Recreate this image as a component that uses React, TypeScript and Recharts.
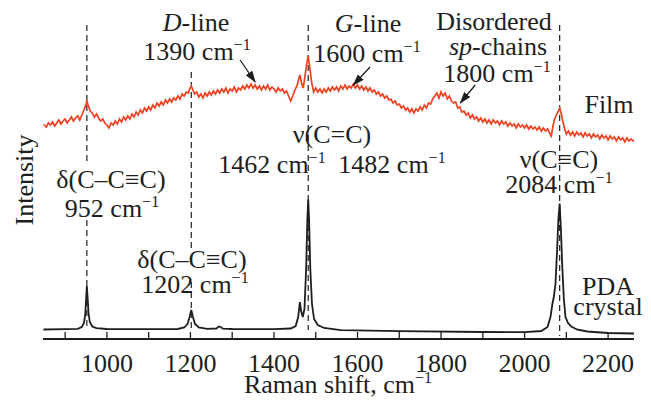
import { Line, LineChart, ReferenceLine, XAxis, YAxis } from 'recharts';

const SERIF = 'Liberation Serif';
const INK = '#1e1e1e';
const FILM_RED = '#ee4323';

// Raman shift ticks (labels every 200, minor every 100)
const shiftTicks = [900, 1000, 1100, 1200, 1300, 1400, 1500, 1600, 1700, 1800, 1900, 2000, 2100, 2200];

// PDA crystal spectrum [shift, intensity]
const crystal: [number, number][] = [
	[848, 9.5], [900, 9.8], [930, 10.2], [940, 12], [945, 16], [948, 24], [950, 38], [952, 53],
	[954, 40], [956, 26], [959, 17], [965, 12.5], [975, 10.8], [1000, 10], [1100, 9.8], [1170, 10],
	[1185, 11.5], [1193, 15], [1198, 22], [1202, 29], [1206, 22], [1211, 15], [1220, 11.5], [1240, 10.2],
	[1262, 10.5], [1268, 12.5], [1272, 12], [1278, 10.3], [1300, 10], [1400, 9.8], [1440, 10.5], [1452, 13],
	[1458, 22], [1462, 37], [1465, 28], [1469, 22], [1473, 30], [1477, 70], [1480, 120], [1482, 139.5],
	[1484, 120], [1487, 70], [1491, 35], [1496, 20], [1505, 14], [1520, 11], [1560, 8.8], [1700, 7.8],
	[1900, 7], [2000, 6.8], [2040, 8], [2055, 12], [2062, 22], [2067, 36], [2070, 42], [2074, 55],
	[2078, 90], [2081, 120], [2084, 135.5], [2087, 110], [2090, 75], [2094, 40], [2098, 22], [2104, 16],
	[2112, 12.5], [2125, 9.5], [2150, 7.5], [2200, 6], [2262, 5.5],
];

// Film spectrum [shift, intensity]
const film: [number, number][] = [
	[848, 214], [850, 214], [855, 212], [860, 216], [865, 214], [870, 217], [875, 213], [880, 216], [885, 219],
	[890, 215], [895, 218], [900, 220], [905, 216], [910, 219], [915, 222], [920, 218], [925, 221],
	[930, 223], [935, 219], [940, 224], [945, 229], [950, 235], [952, 238], [955, 234], [960, 228],
	[965, 226], [970, 222], [975, 225], [980, 221], [985, 218], [990, 220], [995, 216], [1000, 214],
	[1005, 211], [1010, 216], [1015, 214], [1020, 218], [1025, 215], [1030, 220], [1035, 217], [1040, 222],
	[1045, 219], [1050, 223], [1055, 220], [1060, 225], [1065, 222], [1070, 227], [1075, 224], [1080, 229],
	[1085, 226], [1090, 231], [1095, 228], [1100, 232], [1105, 229], [1110, 234], [1115, 231], [1120, 236],
	[1125, 233], [1130, 237], [1135, 234], [1140, 239], [1145, 236], [1150, 240], [1155, 237], [1160, 241],
	[1165, 239], [1170, 243], [1175, 240], [1180, 245], [1185, 243], [1190, 247], [1195, 246], [1198, 250],
	[1202, 253], [1206, 249], [1210, 245], [1215, 247], [1220, 242], [1225, 245], [1230, 241], [1235, 246],
	[1240, 243], [1245, 247], [1250, 244], [1255, 248], [1260, 245], [1265, 249], [1270, 246], [1275, 250],
	[1280, 247], [1285, 251], [1290, 246], [1295, 250], [1300, 248], [1305, 252], [1310, 247], [1315, 251],
	[1320, 249], [1325, 253], [1330, 250], [1335, 254], [1340, 251], [1345, 255], [1350, 251], [1355, 254],
	[1360, 250], [1365, 253], [1370, 249], [1375, 253], [1380, 250], [1385, 254], [1390, 249], [1395, 252],
	[1400, 250], [1405, 247], [1410, 251], [1415, 248], [1420, 250], [1425, 246], [1430, 248], [1435, 243],
	[1440, 238], [1445, 243], [1450, 249], [1455, 253], [1458, 258], [1462, 264], [1466, 256], [1470, 251],
	[1474, 262], [1478, 274], [1482, 283], [1486, 271], [1490, 257], [1495, 247], [1500, 251], [1505, 247],
	[1510, 250], [1515, 246], [1520, 250], [1525, 247], [1530, 251], [1535, 248], [1540, 252], [1545, 249],
	[1550, 252], [1555, 248], [1560, 253], [1565, 250], [1570, 254], [1575, 250], [1580, 253], [1585, 251],
	[1590, 255], [1595, 251], [1600, 254], [1605, 250], [1610, 253], [1615, 249], [1620, 252], [1625, 248],
	[1630, 251], [1635, 247], [1640, 249], [1645, 245], [1650, 247], [1655, 243], [1660, 245], [1665, 241],
	[1670, 243], [1675, 239], [1680, 240], [1685, 236], [1690, 238], [1695, 234], [1700, 235], [1705, 231],
	[1710, 233], [1715, 229], [1720, 231], [1725, 227], [1730, 230], [1735, 226], [1740, 230], [1745, 228],
	[1750, 232], [1755, 229], [1760, 234], [1765, 231], [1770, 236], [1775, 235], [1780, 240], [1785, 243],
	[1790, 246], [1795, 241], [1800, 247], [1805, 243], [1810, 246], [1815, 240], [1820, 243], [1825, 238],
	[1830, 236], [1835, 237], [1840, 231], [1845, 232], [1850, 227], [1855, 228], [1860, 224], [1865, 226],
	[1870, 221], [1875, 224], [1880, 220], [1885, 222], [1890, 218], [1895, 221], [1900, 217], [1905, 220],
	[1910, 216], [1915, 219], [1920, 215], [1925, 219], [1930, 216], [1935, 218], [1940, 214], [1945, 218],
	[1950, 215], [1955, 217], [1960, 213], [1965, 216], [1970, 213], [1975, 215], [1980, 211], [1985, 215],
	[1990, 212], [1995, 214], [2000, 211], [2005, 214], [2010, 210], [2015, 213], [2020, 210], [2025, 212],
	[2030, 209], [2035, 212], [2040, 208], [2045, 211], [2050, 208], [2055, 210], [2060, 206], [2064, 203],
	[2068, 213], [2072, 220], [2076, 224], [2080, 227], [2084, 231], [2088, 225], [2092, 217], [2096, 210],
	[2100, 205], [2105, 208], [2110, 204], [2115, 207], [2120, 203], [2125, 207], [2130, 204], [2135, 206],
	[2140, 202], [2145, 206], [2150, 203], [2155, 205], [2160, 201], [2165, 205], [2170, 202], [2175, 204],
	[2180, 200], [2185, 204], [2190, 201], [2195, 203], [2200, 199], [2205, 203], [2210, 200], [2215, 202],
	[2220, 198], [2225, 202], [2230, 199], [2235, 201], [2240, 197], [2245, 201], [2250, 198], [2255, 200],
	[2260, 198], [2262, 199],
];

// dashed peak markers: [shift, from, to]
const peakMarks: [number, number, number][] = [
	[952, 314, 174],
	[952, 119, 9],
	[1202, 267, 87],
	[1202, 57, 9],
	[1482, 314, 9],
	[2084, 314, 3],
];

// annotation arrows: [fromShift, fromY, toShift, toY]
const arrows: [number, number, number, number][] = [
	[1319, 279, 1355, 257],
	[1630, 272, 1590, 254],
	[1882, 254, 1846, 236],
];

const crystalData = crystal.map(([x, y]) => ({ x, y }));
const filmData = film.map(([x, y]) => ({ x, y }));

const textStyle = { fontFamily: SERIF, fontSize: 26 };

function AxisTick({ x, y, payload }: any) {
	const major = payload.value % 200 === 0;
	return (
		<g>
			<line x1={x} x2={x} y1={y} y2={y - 7} stroke={INK} strokeWidth={1.3} />
			{major && (
				<text x={x} y={y + 33} textAnchor="middle" style={textStyle} fill={INK}>
					{payload.value}
				</text>
			)}
		</g>
	);
}

function Sup({ children }: { children: string }) {
	return (
		<tspan dy={-10} style={{ fontSize: 16 }}>
			{children}
		</tspan>
	);
}

function Label({ x, y, children }: { x: number; y: number; children: any }) {
	return (
		<text x={x} y={y} textAnchor="middle" style={textStyle} fill={INK}>
			{children}
		</text>
	);
}

export default function App() {
	return (
		<div style={{ position: 'absolute', left: 0, top: 0, width: 651, height: 408, background: '#fff' }}>
			<LineChart width={651} height={408} margin={{ top: 20, right: 17, bottom: 0, left: 43 }}>
				<XAxis
					type="number"
					dataKey="x"
					domain={[847, 2262]}
					ticks={shiftTicks}
					interval={0}
					allowDataOverflow
					height={69}
					tickSize={0}
					tickMargin={0}
					tickLine={false}
					tick={<AxisTick />}
					axisLine={{ stroke: INK, strokeWidth: 2 }}
				/>
				<YAxis
					type="number"
					domain={[0, 319]}
					allowDataOverflow
					width={0}
					tick={false}
					tickLine={false}
					axisLine={{ stroke: INK, strokeWidth: 2 }}
				/>
				{peakMarks.map(([x, y1, y2], i) => (
					<ReferenceLine
						key={`pm${i}`}
						segment={[{ x, y: y1 }, { x, y: y2 }]}
						stroke={INK}
						strokeWidth={1.2}
						strokeDasharray="6 4"
					/>
				))}
				<Line
					data={filmData}
					dataKey="y"
					type="linear"
					stroke={FILM_RED}
					strokeWidth={1.7}
					dot={false}
					isAnimationActive={false}
				/>
				<Line
					data={crystalData}
					dataKey="y"
					type="linear"
					stroke={INK}
					strokeWidth={1.8}
					dot={false}
					isAnimationActive={false}
				/>
				{arrows.map(([x1, y1, x2, y2], i) => (
					<ReferenceLine
						key={`ar${i}`}
						segment={[{ x: x1, y: y1 }, { x: x2, y: y2 }]}
						stroke={INK}
						strokeWidth={1.3}
						markerEnd="url(#arrowHead)"
					/>
				))}
			</LineChart>
			<svg
				width={651}
				height={408}
				style={{ position: 'absolute', left: 0, top: 0, pointerEvents: 'none' }}
			>
				<defs>
					<marker
						id="arrowHead"
						viewBox="0 0 12 8"
						refX={11}
						refY={4}
						markerWidth={12}
						markerHeight={8}
						markerUnits="userSpaceOnUse"
						orient="auto"
					>
						<path d="M0,0 L12,4 L0,8 z" fill={INK} />
					</marker>
				</defs>
				<Label x={196} y={31}>
					<tspan fontStyle="italic">D</tspan>-line
				</Label>
				<Label x={197} y={60}>
					1390 cm<Sup>−1</Sup>
				</Label>
				<Label x={368} y={32}>
					<tspan fontStyle="italic">G</tspan>-line
				</Label>
				<Label x={367} y={62}>
					1600 cm<Sup>−1</Sup>
				</Label>
				<Label x={494} y={30}>
					Disordered
				</Label>
				<Label x={498} y={55}>
					<tspan fontStyle="italic">sp</tspan>-chains
				</Label>
				<Label x={497} y={82}>
					1800 cm<Sup>−1</Sup>
				</Label>
				<Label x={609} y={113}>
					Film
				</Label>
				<Label x={332} y={143}>
					ν(C=C)
				</Label>
				<Label x={272} y={173}>
					1462 cm<Sup>−1</Sup>
				</Label>
				<Label x={392} y={173}>
					1482 cm<Sup>−1</Sup>
				</Label>
				<Label x={559} y={168}>
					ν(C≡C)
				</Label>
				<Label x={559} y={193}>
					2084 cm<Sup>−1</Sup>
				</Label>
				<Label x={111} y={188}>
					δ(C–C≡C)
				</Label>
				<Label x={112} y={217}>
					952 cm<Sup>−1</Sup>
				</Label>
				<Label x={192} y={268}>
					δ(C–C≡C)
				</Label>
				<Label x={195} y={293}>
					1202 cm<Sup>−1</Sup>
				</Label>
				<Label x={608} y={295}>
					PDA
				</Label>
				<Label x={608} y={315}>
					crystal
				</Label>
				<text
					x={33}
					y={180}
					transform="rotate(-90 33 180)"
					textAnchor="middle"
					style={textStyle}
					fill={INK}
				>
					Intensity
				</text>
				<Label x={338} y={393}>
					Raman shift, cm<Sup>−1</Sup>
				</Label>
			</svg>
		</div>
	);
}
